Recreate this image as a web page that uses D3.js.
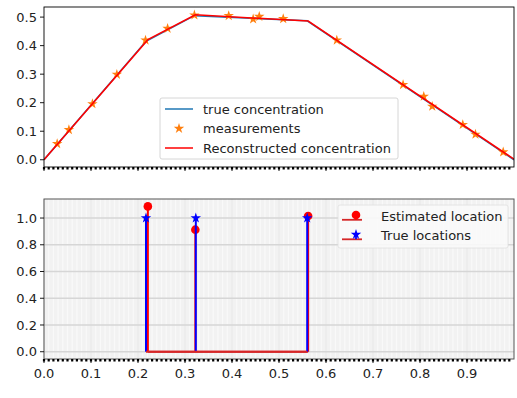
<!DOCTYPE html>
<html lang="en">
<head>
<meta charset="utf-8">
<title>Concentration reconstruction</title>
<script src="https://d3js.org/d3.v7.min.js"></script>
<style>
    body { margin: 0; background: #ffffff; }
    svg { display: block; font-family: "DejaVu Sans", sans-serif; }
</style>
</head>
<body>
<div id="chart_div"></div>
<script>
"use strict";

// top panel data
var true_x = [0, 0.217, 0.32, 0.56, 1.0];
var true_y = [0, 0.415, 0.505, 0.487, 0];
var recon_x = [0, 0.221, 0.322, 0.562, 1.0];
var recon_y = [0, 0.421, 0.508, 0.486, 0.002];
var meas_x = [0.028, 0.053, 0.103, 0.155, 0.216, 0.263, 0.320, 0.393, 0.445, 0.458, 0.509, 0.623, 0.764, 0.808, 0.826, 0.891, 0.918, 0.977];
var meas_y = [0.056, 0.105, 0.196, 0.299, 0.419, 0.460, 0.507, 0.505, 0.493, 0.502, 0.494, 0.419, 0.263, 0.222, 0.187, 0.123, 0.089, 0.027];

// bottom panel data
var est_loc = [0.221, 0.322, 0.562];
var est_amp = [1.087, 0.913, 1.015];
var true_loc = [0.217, 0.323, 0.560];
var true_amp = [1.0, 1.0, 1.0];

var top_ticks = [0.0, 0.1, 0.2, 0.3, 0.4, 0.5];
var bottom_ticks = [0.0, 0.2, 0.4, 0.6, 0.8, 1.0];
var x_ticks = [0, 0.1, 0.2, 0.3, 0.4, 0.5, 0.6, 0.7, 0.8, 0.9];

var svg_width = 517, svg_height = 398;
var left = 44, right = 514;
var font_size = 13;
var star_size = 34;

var svg = d3.select("#chart_div").append("svg")
    .attr("width", svg_width).attr("height", svg_height);

var x = d3.scaleLinear().domain([0, 1]).range([left, right]);
var minor_ticks = d3.range(0, 100).map(function(i) { return i / 100; });

var y_top = d3.scaleLinear().domain([-0.0254, 0.5354]).range([167, 7]);
var y_bot = d3.scaleLinear().domain([-0.0544, 1.1424]).range([359, 199]);

var star = d3.symbol().type(d3.symbolStar);

function draw_x_ticks(g, y_px, labels)
{
    g.selectAll(".minor").data(minor_ticks).enter().append("line")
        .attr("x1", function(d) { return x(d); }).attr("x2", function(d) { return x(d); })
        .attr("y1", y_px).attr("y2", y_px + 2.5)
        .attr("stroke", "#000").attr("stroke-width", 2.2);
    g.selectAll(".major").data(x_ticks).enter().append("line")
        .attr("x1", function(d) { return x(d); }).attr("x2", function(d) { return x(d); })
        .attr("y1", y_px).attr("y2", y_px + 4)
        .attr("stroke", "#000").attr("stroke-width", 0.9);
    if (labels)
    {
        g.selectAll(".lab").data(x_ticks).enter().append("text")
            .attr("x", function(d) { return x(d); }).attr("y", y_px + 19)
            .attr("text-anchor", "middle").attr("font-size", font_size).attr("fill", "#222")
            .text(function(d) { return d3.format(".1f")(d); });
    }
}

function draw_y_ticks(g, scale, ticks)
{
    g.selectAll(".ytick").data(ticks).enter().append("line")
        .attr("x1", left - 4).attr("x2", left)
        .attr("y1", function(d) { return scale(d); }).attr("y2", function(d) { return scale(d); })
        .attr("stroke", "#000").attr("stroke-width", 0.9);
    g.selectAll(".ylab").data(ticks).enter().append("text")
        .attr("x", left - 7).attr("y", function(d) { return scale(d) + 4.7; })
        .attr("text-anchor", "end").attr("font-size", font_size).attr("fill", "#222")
        .text(function(d) { return d3.format(".1f")(d); });
}

// ---------- top panel ----------
var top_g = svg.append("g");
top_g.append("defs").append("clipPath").attr("id", "clip_top")
    .append("rect").attr("x", left).attr("y", 7).attr("width", right - left).attr("height", 160);

var line_top = d3.line()
    .x(function(d) { return x(d[0]); })
    .y(function(d) { return y_top(d[1]); });

var plot_top = top_g.append("g").attr("clip-path", "url(#clip_top)");
plot_top.append("path")
    .attr("d", line_top(d3.zip(true_x, true_y)))
    .attr("fill", "none").attr("stroke", "#1f77b4").attr("stroke-width", 1.5);

plot_top.selectAll(".meas").data(d3.zip(meas_x, meas_y)).enter().append("path")
    .attr("d", star.size(star_size))
    .attr("transform", function(d) { return "translate(" + x(d[0]) + "," + y_top(d[1]) + ")"; })
    .attr("fill", "#ff7f0e");

plot_top.append("path")
    .attr("d", line_top(d3.zip(recon_x, recon_y)))
    .attr("fill", "none").attr("stroke", "#ff0000").attr("stroke-width", 1.5);

top_g.append("rect").attr("x", left).attr("y", 7).attr("width", right - left).attr("height", 160)
    .attr("fill", "none").attr("stroke", "#000").attr("stroke-width", 0.9);
draw_y_ticks(top_g, y_top, top_ticks);
draw_x_ticks(top_g, 167, false);

// top legend
var leg1 = top_g.append("g").attr("transform", "translate(160,98)");
leg1.append("rect").attr("width", 238).attr("height", 61).attr("rx", 2)
    .attr("fill", "#fff").attr("fill-opacity", 0.8).attr("stroke", "#ccc").attr("stroke-width", 0.8);
var leg1_items = ["true concentration", "measurements", "Reconstructed concentration"];
leg1_items.forEach(function(t, i)
{
    var yy = 11 + i * 19.5;
    if (i === 1)
    {
        leg1.append("path").attr("d", star.size(star_size))
            .attr("transform", "translate(19," + yy + ")").attr("fill", "#ff7f0e");
    }
    else
    {
        leg1.append("line").attr("x1", 5).attr("x2", 33).attr("y1", yy).attr("y2", yy)
            .attr("stroke", i === 0 ? "#1f77b4" : "#ff0000").attr("stroke-width", 1.5);
    }
    leg1.append("text").attr("x", 43).attr("y", yy + 4.7)
        .attr("font-size", font_size).attr("fill", "#222").text(t);
});

// ---------- bottom panel ----------
var bot_g = svg.append("g");
bot_g.append("rect").attr("x", left).attr("y", 199).attr("width", right - left).attr("height", 160)
    .attr("fill", "#f2f2f2");
bot_g.selectAll(".mgrid").data(minor_ticks).enter().append("line")
    .attr("x1", function(d) { return x(d); }).attr("x2", function(d) { return x(d); })
    .attr("y1", 199).attr("y2", 359)
    .attr("stroke", "#f9f9f9").attr("stroke-width", 1.2);
bot_g.selectAll(".vgrid").data(x_ticks).enter().append("line")
    .attr("x1", function(d) { return x(d); }).attr("x2", function(d) { return x(d); })
    .attr("y1", 199).attr("y2", 359)
    .attr("stroke", "#e2e2e2").attr("stroke-width", 0.9);
bot_g.selectAll(".hgrid").data(bottom_ticks).enter().append("line")
    .attr("x1", left).attr("x2", right)
    .attr("y1", function(d) { return y_bot(d); }).attr("y2", function(d) { return y_bot(d); })
    .attr("stroke", "#d6d6d6").attr("stroke-width", 1.6);

// stems: estimated (red) then true (blue)
bot_g.selectAll(".est_stem").data(d3.zip(est_loc, est_amp)).enter().append("line")
    .attr("x1", function(d) { return x(d[0]); }).attr("x2", function(d) { return x(d[0]); })
    .attr("y1", y_bot(0)).attr("y2", function(d) { return y_bot(d[1]); })
    .attr("stroke", "#ff0000").attr("stroke-width", 2);
bot_g.append("line")
    .attr("x1", x(d3.min(est_loc))).attr("x2", x(d3.max(est_loc)))
    .attr("y1", y_bot(0)).attr("y2", y_bot(0))
    .attr("stroke", "#d62728").attr("stroke-width", 2);
bot_g.selectAll(".est_dot").data(d3.zip(est_loc, est_amp)).enter().append("circle")
    .attr("cx", function(d) { return x(d[0]); }).attr("cy", function(d) { return y_bot(d[1]); })
    .attr("r", 4.3).attr("fill", "#ff0000");

bot_g.selectAll(".true_stem").data(d3.zip(true_loc, true_amp)).enter().append("line")
    .attr("x1", function(d) { return x(d[0]); }).attr("x2", function(d) { return x(d[0]); })
    .attr("y1", y_bot(0)).attr("y2", function(d) { return y_bot(d[1]); })
    .attr("stroke", "#0000ff").attr("stroke-width", 2);
bot_g.append("line")
    .attr("x1", x(d3.min(true_loc))).attr("x2", x(d3.max(true_loc)))
    .attr("y1", y_bot(0)).attr("y2", y_bot(0))
    .attr("stroke", "#d62728").attr("stroke-width", 2);
bot_g.selectAll(".true_star").data(d3.zip(true_loc, true_amp)).enter().append("path")
    .attr("d", star.size(star_size))
    .attr("transform", function(d) { return "translate(" + x(d[0]) + "," + y_bot(d[1]) + ")"; })
    .attr("fill", "#0000ff");

bot_g.append("rect").attr("x", left).attr("y", 199).attr("width", right - left).attr("height", 160)
    .attr("fill", "none").attr("stroke", "#555").attr("stroke-width", 1);
draw_y_ticks(bot_g, y_bot, bottom_ticks);
draw_x_ticks(bot_g, 359, true);

// bottom legend
var leg2 = bot_g.append("g").attr("transform", "translate(338,205)");
leg2.append("rect").attr("width", 170).attr("height", 43).attr("rx", 2)
    .attr("fill", "#fafafa").attr("fill-opacity", 0.9).attr("stroke", "#e0e0e0").attr("stroke-width", 0.8);
var leg2_items = ["Estimated location", "True locations"];
leg2_items.forEach(function(t, i)
{
    var yy = 10 + i * 19.5;
    leg2.append("line").attr("x1", 4).attr("x2", 24).attr("y1", yy + 4.8).attr("y2", yy + 4.8)
        .attr("stroke", "#d62728").attr("stroke-width", 1.8);
    leg2.append("line").attr("x1", 18).attr("x2", 18).attr("y1", yy).attr("y2", yy + 4.8)
        .attr("stroke", i === 0 ? "#ff0000" : "#0000ff").attr("stroke-width", 1.8);
    if (i === 0)
    {
        leg2.append("circle").attr("cx", 18).attr("cy", yy).attr("r", 4.3).attr("fill", "#ff0000");
    }
    else
    {
        leg2.append("path").attr("d", star.size(star_size)).attr("transform", "translate(18," + yy + ")").attr("fill", "#0000ff");
    }
    leg2.append("text").attr("x", 43).attr("y", yy + 5.5)
        .attr("font-size", font_size).attr("fill", "#222").text(t);
});
</script>
</body>
</html>
